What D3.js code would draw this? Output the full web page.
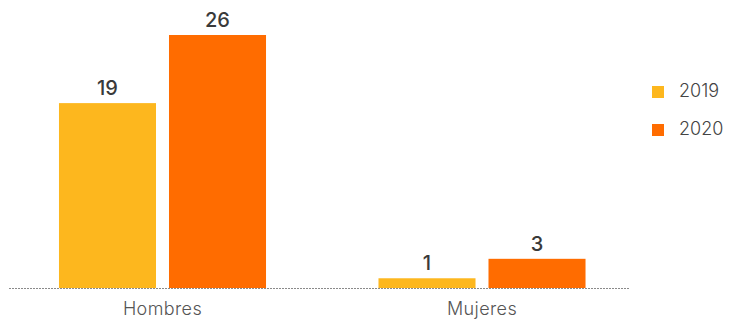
<!DOCTYPE html>
<html>
<head>
<meta charset="utf-8">
<script src="https://cdn.jsdelivr.net/npm/d3@7"></script>
<style>
  html, body { margin: 0; padding: 0; background: #fff; }
  svg { display: block; }
</style>
</head>
<body>
<svg id="chart" width="730" height="320"></svg>
<script>
// Categories, series and values
const categories = ["Hombres", "Mujeres"];
const years = ["2019", "2020"];
const values2019 = [19, 1];
const values2020 = [26, 3];
const colors = ["#FDB71E", "#FF6C00"];

const series = [values2019, values2020];
const rows = categories.map((c, i) => ({
  category: c,
  bars: years.map((y, j) => ({ year: y, value: series[j][i] }))
}));

const svg = d3.select("#chart");
const font = "Inter, 'Open Sans', sans-serif";

const x0 = d3.scaleBand()
  .domain(categories)
  .range([2.75, 641.75])
  .paddingInner(0.352)
  .paddingOuter(0.176);

const x1 = d3.scaleBand()
  .domain(years)
  .range([0, x0.bandwidth()])
  .paddingInner(0.118);

const y = d3.scaleLinear()
  .domain([0, 26])
  .range([288, 35]);

const color = d3.scaleOrdinal().domain(years).range(colors);

// Bars
const groups = svg.append("g").selectAll("g")
  .data(rows)
  .join("g")
  .attr("transform", d => `translate(${x0(d.category)},0)`);

groups.selectAll("rect")
  .data(d => d.bars)
  .join("rect")
  .attr("x", d => x1(d.year))
  .attr("y", d => y(d.value))
  .attr("width", x1.bandwidth())
  .attr("height", d => y(0) - y(d.value))
  .attr("fill", d => color(d.year));

// Value labels above each bar
groups.selectAll("text")
  .data(d => d.bars)
  .join("text")
  .attr("x", d => x1(d.year) + x1.bandwidth() / 2)
  .attr("y", d => y(d.value) - 8)
  .attr("text-anchor", "middle")
  .attr("font-family", font)
  .attr("font-size", 20)
  .attr("font-weight", 500)
  .attr("fill", "#3a3a3a")
  .text(d => d.value);

// Dotted baseline
svg.append("line")
  .attr("x1", 9)
  .attr("x2", 629)
  .attr("y1", y(0) + 0.5)
  .attr("y2", y(0) + 0.5)
  .attr("stroke", "#8a8a8a")
  .attr("stroke-width", 1)
  .attr("stroke-dasharray", "2,1");

// Category axis labels
const xAxis = d3.axisBottom(x0).tickSize(0).tickPadding(0);
const axisG = svg.append("g")
  .attr("transform", `translate(0,${y(0)})`)
  .call(xAxis);
axisG.select(".domain").remove();
axisG.selectAll("text")
  .attr("dy", null)
  .attr("y", 27)
  .attr("font-family", font)
  .attr("font-size", 18)
  .attr("font-weight", 300)
  .attr("letter-spacing", 0.4)
  .attr("fill", "#555");

// Legend
const legend = svg.append("g").selectAll("g")
  .data(years)
  .join("g")
  .attr("transform", (d, i) => `translate(652,${86 + i * 38})`);

legend.append("rect")
  .attr("width", 12)
  .attr("height", 12)
  .attr("fill", d => color(d));

legend.append("text")
  .attr("x", 27)
  .attr("y", 11)
  .attr("font-family", font)
  .attr("font-size", 18)
  .attr("font-weight", 300)
  .attr("fill", "#444")
  .text(d => d);
</script>
</body>
</html>
